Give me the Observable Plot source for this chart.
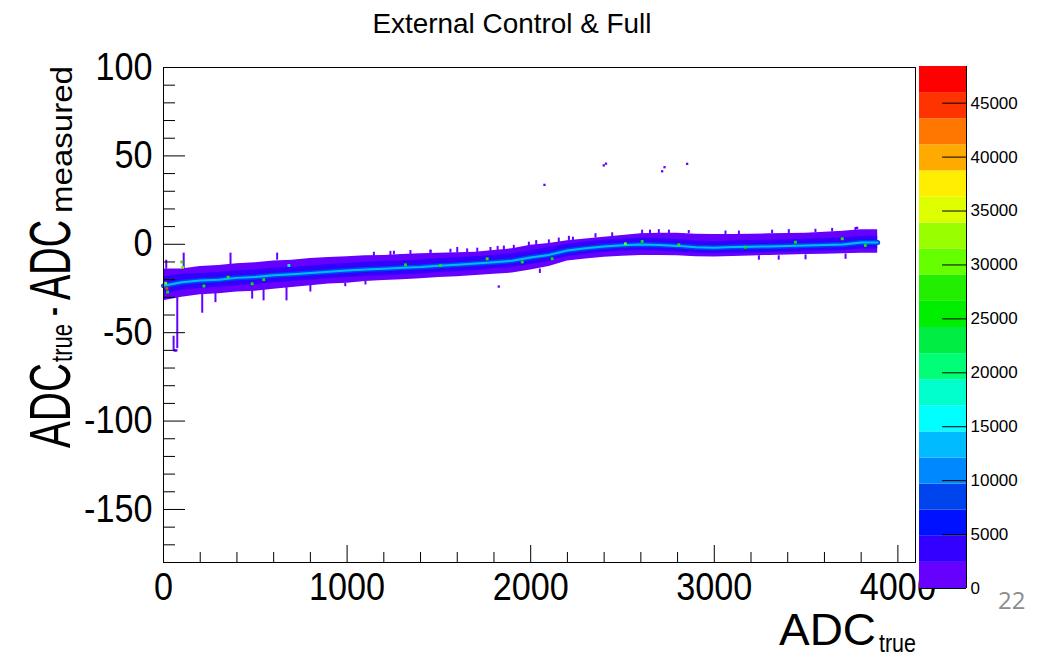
<!DOCTYPE html>
<html><head><meta charset="utf-8">
<script src="https://cdn.jsdelivr.net/npm/d3@7"></script>
<script src="https://cdn.jsdelivr.net/npm/@observablehq/plot@0.6"></script>
<style>
html,body{margin:0;padding:0;background:#fff;}
body{width:1048px;height:657px;overflow:hidden;position:relative;font-family:"Liberation Sans",Arial,sans-serif;}
#main{position:absolute;left:0;top:0;width:1048px;}
#bar{position:absolute;left:919px;top:66px;width:140px;}
#main svg,#bar svg{max-width:none;}
#page{position:absolute;left:998px;top:583px;font-family:"Open Sans","Noto Sans",sans-serif;font-size:24px;color:#8c8c8c;}
</style></head><body>
<div id="main"></div><div id="bar"></div><div id="page"></div>
<script>
// ---- texts ----
const titleText = "External Control & Full";
const pageNumber = "22";
// ---- axis ticks ----
const xTicks = [0, 1000, 2000, 3000, 4000];
const xMinorTicks = [200,400,600,800,1200,1400,1600,1800,2200,2400,2600,2800,3200,3400,3600,3800];
const yTicks = [-150, -100, -50, 0, 50, 100];
const yMinorTicks = [-170,-160,-140,-130,-120,-110,-90,-80,-70,-60,-40,-30,-20,-10,10,20,30,40,60,70,80,90];
// ---- colour palette (20 contour levels, bottom to top) ----
const paletteColors = ["#6600ff","#3300ff","#0011ff","#0044ee","#0088ff","#00bbff","#00ffff","#00ffcc","#00ff77","#00ee44",
  "#00ee00","#22ee00","#66ff00","#99ff00","#ddff00","#ffee00","#ffaa00","#ff7700","#ff3300","#ff0000"];
const contourTop = 48400;
const barTicks = [0,5000,10000,15000,20000,25000,30000,35000,40000,45000];
// ---- 2D histogram, band profile read at ADC_true knots ----
const knots = [0,100,200,300,400,500,600,700,800,900,1000,1100,1200,1300,1400,1500,1600,1700,1800,1900,2000,
  2100,2200,2300,2400,2500,2600,2700,2800,2900,3000,3100,3200,3300,3400,3500,3600,3700,3800,3890];
const bandTop = [-14,-14,-12.5,-12,-11,-10.5,-9.5,-9,-8,-7.5,-7,-6.5,-6.3,-5.8,-5.4,-5,-4.8,-4.5,-3.5,-2.5,
  -0.5,0.5,2,3,4,5,5.9,6.3,6.2,5.7,5.5,5.5,5.7,5.9,6.1,6.3,6.8,7.4,8.2,8.2];
const bandBottom = [-32,-30,-28.5,-28,-27,-26.5,-25.5,-24.5,-23.5,-22.5,-22,-21,-20.5,-20,-19.5,-18.8,-18.3,-17.6,-17,-16.3,
  -14.5,-12.5,-9.5,-8.3,-7.3,-6.8,-6.3,-6.3,-6.5,-7,-7.2,-6.9,-6.6,-6.3,-6.1,-5.8,-5.6,-5.4,-5,-5];
const innerTop = [-18.5,-17,-16.5,-16,-15,-14.5,-13.5,-13,-12.3,-11.5,-10.8,-10.2,-9.8,-9.3,-8.9,-8.2,-7.6,-7,-6.3,-5.3,
  -3.5,-2,0,1.3,2.3,2.9,3.4,3.2,2.7,1.9,1.6,1.9,2.1,2.3,2.5,2.8,3.1,3.5,4.5,4.5];
const innerBottom = [-28,-26,-25,-24.3,-23.3,-22.7,-21.7,-21,-20.3,-19.5,-18.8,-18.2,-17.7,-17.2,-16.8,-16,-15.5,-14.8,-14,-13.2,
  -11.5,-9.8,-7,-5.7,-4.7,-4,-3.6,-3.9,-4.4,-5.1,-5.4,-5.1,-4.9,-4.7,-4.4,-4.2,-3.9,-3.6,-2.6,-2.6];
const coreValue = [-23.5,-21.5,-20.5,-20,-19,-18.5,-17.5,-17,-16.3,-15.5,-14.8,-14.2,-13.8,-13.3,-12.9,-12.2,-11.6,-10.9,-10.2,-9.3,
  -7.5,-6,-3.5,-2.2,-1.2,-0.6,-0.1,-0.4,-0.9,-1.7,-2,-1.6,-1.4,-1.2,-1,-0.7,-0.4,-0.1,1,1];
const outerCount = 1200, innerCount = 3800, haloCount = 9000, coreCount = 13500;
// spikes sticking out of the band: ADC, low value, high value
const spikeX    = [15, 55, 75, 110, 211, 283, 365, 483, 545, 619, 670, 800, 990, 1100, 1146, 1236, 1255, 1345, 1454, 1455, 1563, 1600, 1654,
  1709, 1781, 1820, 1854, 1908, 1990, 2030, 2050, 2099, 2153, 2208, 2230, 2353, 2444, 2607, 2650, 2698, 2753, 2861,
  3061, 3134, 3243, 3315, 3351, 3406, 3497, 3551, 3642, 3715, 3769];
const spikeLow  = [-14,-60,-59,-14,-39,-33,-12,-31,-32,-9,-32,-27,-24,-23,-7,-6.5,-6,-6,-5.5,-5,-5,-5,-5,
  -4.6,-4.2,-4,-3.5,-3,-2,-1,-16.5,0,1,2,2,3.5,4,5.5,6,6,6,6,
  5.5,5.5,-9,6,-9,6,-8.8,6.5,7,-8.5,7.5];
const spikeHigh = [-9,-52,-30,-5,-28,-27,-5,-26,-25,-5,-24,-22,-22,-21,-4.5,-4,-3.9,-3.5,-3.2,-3.5,-2.8,-1.8,-2.6,
  -2.2,-1.8,-1.2,-1,-0.6,1.2,2.1,-14,2.5,3.5,4.5,4,6,6.5,8,8,8.3,8,7.8,
  7.5,7.5,-6.5,8,-6.5,8.3,-6,8.5,9,-5.5,9.5];
// hot cells near the peak
const hotX = [12,18,22,100,104,220,352,483,546,683,1318,1509,1763,1954,2117,2516,2607,2807,3170,3442,3697,3823];
const hotY = [-22,-25,-27,-10,-13,-23.6,-18.6,-22.3,-20,-12,-11.6,-12,-8.2,-10,-8.2,0.3,1.6,-0.3,-1.6,1.2,3.1,-0.7];
const hotCount = [30000,45000,26000,27000,30000,26000,27000,25000,26000,17000,26000,25000,27000,26000,25000,30000,26000,27000,25000,26000,28000,25000];
// isolated entries
const isoX = [2075, 2398, 2410, 2716, 2729, 2852, 1826, 3778, 60, 65, 70];
const isoY = [33.6, 44.6, 45.6, 41.3, 43.6, 45.5, -23.9, 9.3, -60, -60, -60];

// ---- build tables ----
const prof = knots.map((x, i) => ({x, hi: bandTop[i], lo: bandBottom[i], ihi: innerTop[i], ilo: innerBottom[i], c: coreValue[i]}));
const spikes = spikeX.map((x, i) => ({x, lo: spikeLow[i], hi: spikeHigh[i]}));
const hots = hotX.map((x, i) => ({x, y: hotY[i], n: hotCount[i]}));
const isos = isoX.map((x, i) => ({x, y: isoY[i]}));
const levels = d3.range(1, paletteColors.length).map(i => i * contourTop / paletteColors.length);
const colorOpt = {type: "threshold", domain: levels, range: paletteColors};

const font = "'Liberation Sans', Arial, Helvetica, sans-serif";
const mL = 163, mR = 133, mT = 67, mB = 95, W = 1048, H = 657;
const fw = W - mL - mR, fh = H - mT - mB;

const mainPlot = Plot.plot({
  width: W, height: H, marginLeft: mL, marginRight: mR, marginTop: mT, marginBottom: mB,
  style: {fontFamily: font, background: "transparent", color: "black", overflow: "visible"},
  x: {domain: [0, 4096], axis: null, label: null},
  y: {domain: [-180, 100], axis: null, label: null},
  color: colorOpt,
  marks: [
    Plot.ruleX(spikes, {x: "x", y1: "lo", y2: "hi", stroke: () => outerCount, strokeWidth: 2}),
    Plot.areaY(prof, {x: "x", y1: "lo", y2: "hi", fill: () => outerCount, curve: "linear"}),
    Plot.areaY(prof, {x: "x", y1: "ilo", y2: "ihi", fill: () => innerCount, curve: "linear"}),
    Plot.line(prof, {x: "x", y: "c", stroke: () => haloCount, strokeWidth: 5, curve: "linear"}),
    Plot.line(prof, {x: "x", y: "c", stroke: () => coreCount, strokeWidth: 2, curve: "linear"}),
    Plot.dot(hots, {x: "x", y: "y", fill: "n", symbol: "square", r: 1.6}),
    Plot.dot(isos, {x: "x", y: "y", fill: () => outerCount, symbol: "square", r: 1.3}),
    Plot.frame({stroke: "black", strokeWidth: 1}),
    Plot.ruleX(xTicks, {x: d => d, insetTop: fh - 17, stroke: "black"}),
    Plot.ruleX(xMinorTicks, {x: d => d, insetTop: fh - 10, stroke: "black"}),
    Plot.ruleY(yTicks, {y: d => d, insetRight: fw - 22, stroke: "black"}),
    Plot.ruleY(yMinorTicks, {y: d => d, insetRight: fw - 12, stroke: "black"}),
    Plot.axisX(xTicks, {anchor: "bottom", label: null, tickSize: 0, tickPadding: 11, fontSize: 38, tickFormat: d => String(d)}),
    Plot.axisY(yTicks, {anchor: "left", label: null, tickSize: 0, tickPadding: 11, fontSize: 38, tickFormat: d => String(d)})
  ]
});
document.getElementById("main").appendChild(mainPlot);
const svg = d3.select(mainPlot);
// condense tick labels a little, like the reference
svg.selectAll('g[aria-label="x-axis tick label"] text, g[aria-label="y-axis tick label"] text')
  .attr("transform", function() { return (d3.select(this).attr("transform") || "") + " scale(0.9,1)"; });

function addText(str, x, y, size, len, rotate, anchor) {
  const t = svg.append("text")
    .attr("transform", `translate(${x},${y})` + (rotate ? ` rotate(${rotate})` : ""))
    .attr("font-family", font).attr("font-size", size).attr("fill", "black")
    .attr("text-anchor", anchor || "start").text(str);
  if (len) t.attr("textLength", len).attr("lengthAdjust", "spacingAndGlyphs");
  return t;
}
// title
addText(titleText, 512, 33, 28, 279, 0, "middle");
// x-axis label ADC_true
addText("ADC", 779, 645, 45, 97);
addText("true", 879, 652, 26, 37);
// y-axis label ADC_true - ADC_measured (rotated)
addText("ADC", 70, 448, 58, 85, -90);
addText("true", 72, 362, 30, 38, -90);
addText("-", 68, 316, 50, 9, -90);
addText("ADC", 70, 300, 58, 80, -90);
addText("measured", 72, 213, 30, 147, -90);

// ---- colour bar ----
const barW = 47, barH = 522;
const bins = paletteColors.map((c, i) => ({lo: i * contourTop / paletteColors.length, hi: (i + 1) * contourTop / paletteColors.length}));
const barPlot = Plot.plot({
  width: barW + 90, height: barH + 20, marginLeft: 0, marginRight: 90, marginTop: 0, marginBottom: 20,
  style: {fontFamily: font, background: "transparent", color: "black", overflow: "visible"},
  x: {domain: [0, 1], axis: null, label: null},
  y: {domain: [0, contourTop], axis: null, label: null},
  color: colorOpt,
  marks: [
    Plot.rect(bins, {x1: 0, x2: 1, y1: "lo", y2: "hi", fill: d => (d.lo + d.hi) / 2}),
    Plot.ruleY(barTicks, {y: d => d, x1: 0.49, x2: 1, stroke: "black"}),
    Plot.ruleX([1], {stroke: "black"}),
    Plot.ruleY([0], {x1: 0, x2: 1, stroke: "black"}),
    Plot.text(barTicks, {x: 1, y: d => d, text: d => String(d), dx: 4, textAnchor: "start", fontSize: 17})
  ]
});
document.getElementById("bar").appendChild(barPlot);
document.getElementById("page").textContent = pageNumber;
</script>
</body></html>
